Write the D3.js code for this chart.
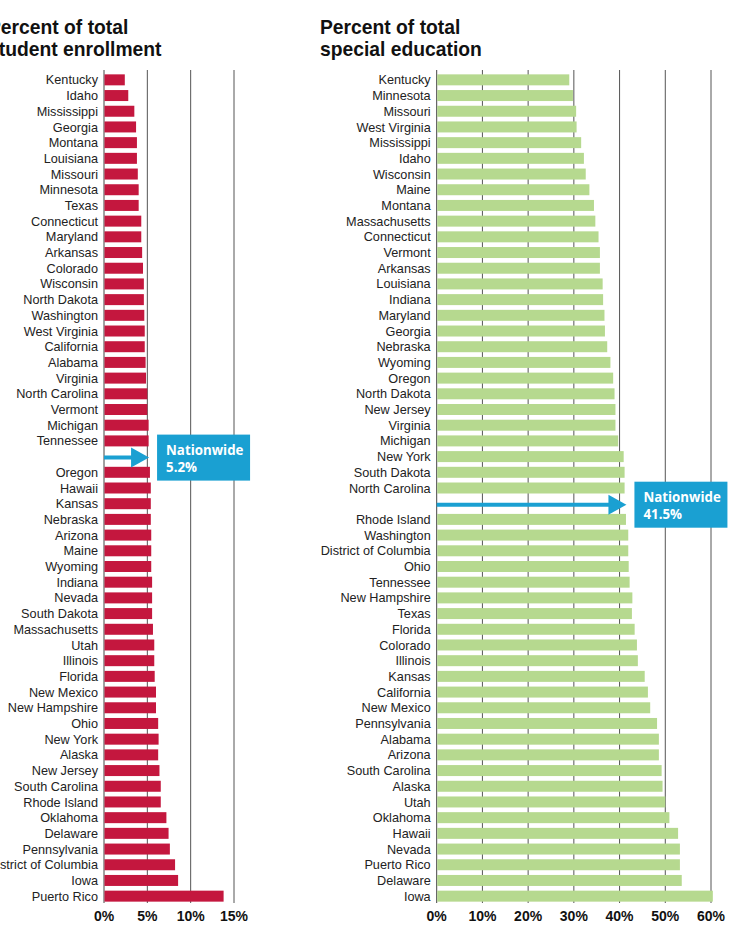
<!DOCTYPE html>
<html>
<head>
<meta charset="utf-8">
<script src="https://d3js.org/d3.v7.min.js"></script>
<style>
  body { margin: 0; background: #fff; }
  svg { display: block; font-family: "Liberation Sans", Arial, Helvetica, sans-serif; }
  .lbl { font-size: 12.7px; fill: #222; }
  .title { font-size: 19.3px; font-weight: bold; fill: #111; }
  .tick { font-size: 14px; font-weight: bold; fill: #111; }
  .note { font-family: "Open Sans", sans-serif; font-size: 13.3px; font-weight: bold; fill: #fff; }
</style>
</head>
<body>
<svg width="734" height="936"></svg>
<script>
// Percent of total student enrollment
var enrollStates = ["Kentucky","Idaho","Mississippi","Georgia","Montana","Louisiana","Missouri","Minnesota","Texas","Connecticut","Maryland","Arkansas","Colorado","Wisconsin","North Dakota","Washington","West Virginia","California","Alabama","Virginia","North Carolina","Vermont","Michigan","Tennessee",
  "Oregon","Hawaii","Kansas","Nebraska","Arizona","Maine","Wyoming","Indiana","Nevada","South Dakota","Massachusetts","Utah","Illinois","Florida","New Mexico","New Hampshire","Ohio","New York","Alaska","New Jersey","South Carolina","Rhode Island","Oklahoma","Delaware","Pennsylvania","District of Columbia","Iowa","Puerto Rico"];
var enrollValues = [2.4,2.8,3.5,3.7,3.8,3.8,3.9,4.0,4.0,4.3,4.3,4.4,4.5,4.6,4.6,4.65,4.7,4.7,4.8,4.85,5.0,5.0,5.15,5.15,
  5.3,5.4,5.4,5.4,5.45,5.45,5.45,5.55,5.55,5.55,5.65,5.8,5.8,5.85,6.0,6.0,6.25,6.3,6.25,6.4,6.55,6.55,7.2,7.45,7.6,8.2,8.55,13.8];
var enrollGapAfter = 24;
var enrollNation = 5.2;
var enrollTicks = [0, 5, 10, 15];

// Percent of total special education
var specStates = ["Kentucky","Minnesota","Missouri","West Virginia","Mississippi","Idaho","Wisconsin","Maine","Montana","Massachusetts","Connecticut","Vermont","Arkansas","Louisiana","Indiana","Maryland","Georgia","Nebraska","Wyoming","Oregon","North Dakota","New Jersey","Virginia","Michigan","New York","South Dakota","North Carolina",
  "Rhode Island","Washington","District of Columbia","Ohio","Tennessee","New Hampshire","Texas","Florida","Colorado","Illinois","Kansas","California","New Mexico","Pennsylvania","Alabama","Arizona","South Carolina","Alaska","Utah","Oklahoma","Hawaii","Nevada","Puerto Rico","Delaware","Iowa"];
var specValues = [29.0,29.8,30.5,30.6,31.6,32.2,32.6,33.4,34.4,34.7,35.4,35.7,35.7,36.3,36.4,36.7,36.8,37.3,38.0,38.6,38.9,39.1,39.1,39.7,40.9,41.1,41.1,
  41.4,41.9,41.9,42.0,42.2,42.8,42.7,43.3,43.8,44.0,45.5,46.2,46.7,48.2,48.6,48.6,49.2,49.4,50.0,50.9,52.8,53.2,53.2,53.6,60.4];
var specGapAfter = 27;
var specNation = 41.5;
var specTicks = [0, 10, 20, 30, 40, 50, 60];

var svg = d3.select("svg");

function panel(opt) {
  var g = svg.append("g");
  var domain = opt.states.slice(0, opt.gap).concat(["__gap"], opt.states.slice(opt.gap));
  var y = d3.scaleBand().domain(domain).range([72, 904]).paddingInner(0.3).paddingOuter(0.15);
  var x = d3.scaleLinear().domain([0, opt.max]).range([opt.x0, opt.x1]);

  // titles
  var t = g.append("text").attr("class", "title").attr("x", opt.titleX).attr("y", 34);
  t.append("tspan").attr("x", opt.titleX).text(opt.title[0]);
  t.append("tspan").attr("x", opt.titleX).attr("dy", 22).text(opt.title[1]);

  // gridlines behind bars
  g.selectAll("line.grid").data(opt.ticks).enter().append("line")
    .attr("class", "grid")
    .attr("x1", function(d) { return x(d); })
    .attr("x2", function(d) { return x(d); })
    .attr("y1", 70).attr("y2", 903)
    .attr("stroke", function(d) { return d === 0 ? "#444" : "#555"; })
    .attr("stroke-width", 1);

  var data = opt.states.map(function(s, i) { return { name: s, v: opt.values[i] }; });

  g.selectAll("rect.bar").data(data).enter().append("rect")
    .attr("class", "bar")
    .attr("x", x(0) + 0.5)
    .attr("y", function(d) { return y(d.name); })
    .attr("width", function(d) { return x(d.v) - x(0) - 0.5; })
    .attr("height", y.bandwidth())
    .attr("fill", opt.color);

  g.selectAll("text.lbl").data(data).enter().append("text")
    .attr("class", "lbl")
    .attr("x", x(0) - 6)
    .attr("y", function(d) { return y(d.name) + y.bandwidth() / 2; })
    .attr("dy", "0.36em")
    .attr("text-anchor", "end")
    .text(function(d) { return d.name; });

  // tick labels
  g.selectAll("text.tick").data(opt.ticks).enter().append("text")
    .attr("class", "tick")
    .attr("x", function(d) { return x(d); })
    .attr("y", 921)
    .attr("text-anchor", "middle")
    .text(function(d) { return d + "%"; });

  // nationwide arrow
  var ay = y("__gap") + y.bandwidth() / 2 + 1;
  var ax = x(opt.nation);
  g.append("line")
    .attr("x1", x(0)).attr("x2", ax - 12)
    .attr("y1", ay).attr("y2", ay)
    .attr("stroke", "#1aa0d2").attr("stroke-width", 4);
  g.append("path")
    .attr("d", "M" + (ax - 18) + "," + (ay - 10) + "L" + ax + "," + ay + "L" + (ax - 18) + "," + (ay + 10) + "Z")
    .attr("fill", "#1aa0d2");

  var bx = ax + 8, by = ay - 23;
  g.append("rect").attr("x", bx).attr("y", by).attr("width", 93).attr("height", 46)
    .attr("fill", "#1aa0d2");
  g.append("text").attr("class", "note").attr("x", bx + 9).attr("y", by + 20).text("Nationwide");
  g.append("text").attr("class", "note").attr("x", bx + 9).attr("y", by + 37).text(opt.nation + "%");
}

panel({
  states: enrollStates, values: enrollValues, gap: enrollGapAfter, nation: enrollNation,
  ticks: enrollTicks, max: 15, x0: 104, x1: 234, color: "#c4173e",
  title: ["Percent of total", "student enrollment"], titleX: -12
});

panel({
  states: specStates, values: specValues, gap: specGapAfter, nation: specNation,
  ticks: specTicks, max: 60, x0: 436.7, x1: 711, color: "#b6d98f",
  title: ["Percent of total", "special education"], titleX: 320
});
</script>
</body>
</html>
